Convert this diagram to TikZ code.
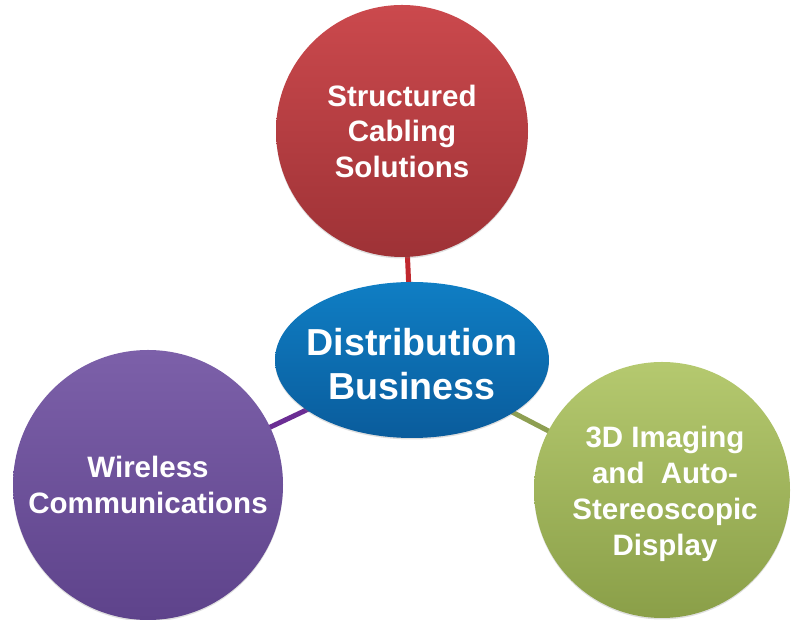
\documentclass[tikz,border=0pt]{standalone}
\usepackage{fontspec}
\setmainfont{Liberation Sans}
\usetikzlibrary{shapes.geometric,backgrounds,shadows}
\definecolor{redtop}{HTML}{CB494D}
\definecolor{redbot}{HTML}{9E3236}
\definecolor{bluetop}{HTML}{0F7EC4}
\definecolor{bluebot}{HTML}{0A5C9C}
\definecolor{purtop}{HTML}{7C60A9}
\definecolor{purbot}{HTML}{5E438B}
\definecolor{grntop}{HTML}{B5C96F}
\definecolor{grnbot}{HTML}{8A9F48}
\definecolor{redline}{HTML}{C0282E}
\definecolor{purline}{HTML}{6B2D94}
\definecolor{grnline}{HTML}{8E9F52}
\begin{document}
\begin{tikzpicture}[x=1pt,y=1pt,
  bubble/.style={circle, inner sep=0pt, align=center, text=white,
    font=\bfseries\fontsize{29.5}{35.5}\selectfont,
    drop shadow={opacity=0.25, shadow xshift=0pt, shadow yshift=-1.5pt}},
  hub/.style={ellipse, inner sep=0pt,
    drop shadow={opacity=0.25, shadow xshift=0pt, shadow yshift=-1.5pt}},
  hubtext/.style={inner sep=0pt, align=center, text=white,
    font=\bfseries\fontsize{37.6}{44}\selectfont},
  link/.style={line width=5pt}]
\useasboundingbox (0,0) rectangle (798,620);
\node[bubble, minimum size=252pt, top color=redtop, bottom color=redbot] (cab) at (402,489) {Structured\\Cabling\\Solutions};
\node[bubble, minimum size=270pt, top color=purtop, bottom color=purbot] (wir) at (148,135) {Wireless\\Communications};
\node[bubble, minimum size=256pt, top color=grntop, bottom color=grnbot] (img) at (662,130) {};
\node[align=center, inner sep=0pt, text=white, font=\bfseries\fontsize{29.5}{36}\selectfont] (imgtext) at (665,126.5) {3D Imaging\\and\ \ Auto-\\Stereoscopic\\Display};
\node[hub, minimum width=274pt, minimum height=156pt, top color=bluetop, bottom color=bluebot] (dist) at (412,260) {};
\node[hubtext] (disttext) at (412,256) {Distribution\\Business};
\begin{pgfonlayer}{background}
\draw[link, draw=redline] (cab.center) -- (dist.center);
\draw[link, draw=purline] (wir.center) -- (dist.center);
\draw[link, draw=grnline] (img.center) -- (dist.center);
\end{pgfonlayer}
\end{tikzpicture}
\end{document}
